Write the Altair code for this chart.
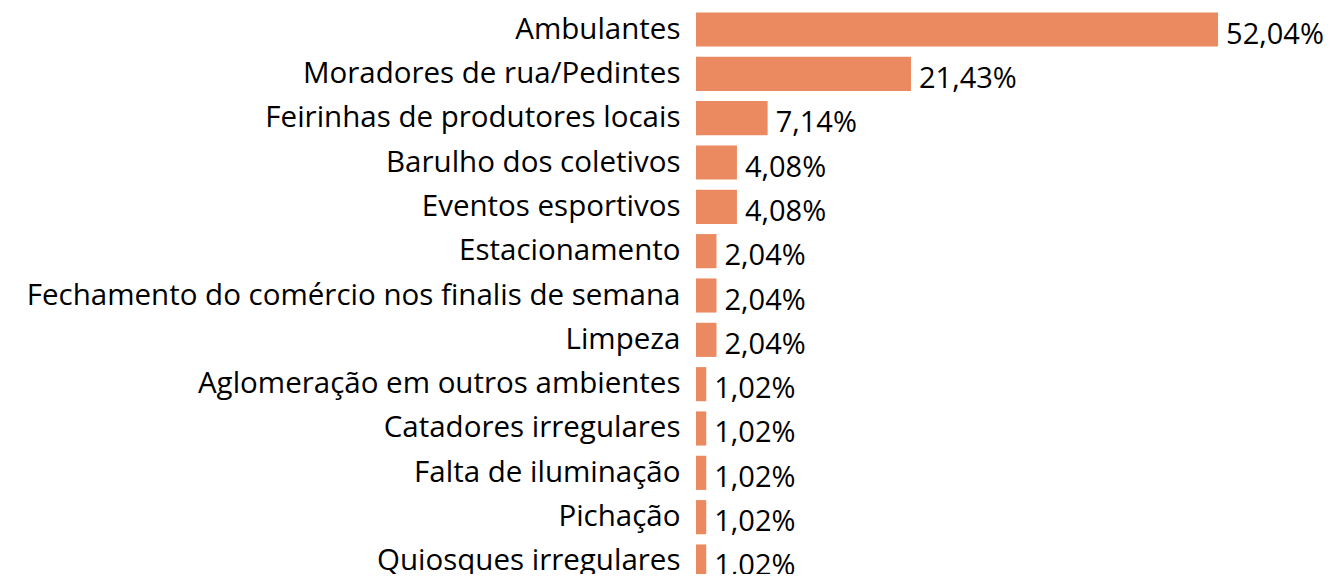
import altair as alt
import pandas as pd

categories = [
    "Ambulantes",
    "Moradores de rua/Pedintes",
    "Feirinhas de produtores locais",
    "Barulho dos coletivos",
    "Eventos esportivos",
    "Estacionamento",
    "Fechamento do comércio nos finalis de semana",
    "Limpeza",
    "Aglomeração em outros ambientes",
    "Catadores irregulares",
    "Falta de iluminação",
    "Pichação",
    "Quiosques irregulares",
]
values = [52.04, 21.43, 7.14, 4.08, 4.08, 2.04, 2.04, 2.04, 1.02, 1.02, 1.02, 1.02, 1.02]
labels = [f"{v:.2f}%".replace(".", ",") for v in values]

df = pd.DataFrame({"categoria": categories, "valor": values, "rotulo": labels})

FONT = "Open Sans"
FSIZE = 29.5
FWEIGHT = 400
TCOLOR = "#000000"

y = alt.Y(
    "categoria:N",
    sort=categories,
    title=None,
    scale=alt.Scale(range=[0, 575], paddingInner=0.23, paddingOuter=0.1),
    axis=alt.Axis(
        domain=False, ticks=False, tickSize=0, labelPadding=16,
        labelFontSize=FSIZE, labelFont=FONT, labelFontWeight=FWEIGHT,
        labelColor=TCOLOR, labelLimit=1000,
    ),
)
x = alt.X("valor:Q", scale=alt.Scale(domain=[0, 62.9]), axis=None)

bars = alt.Chart(df).mark_bar(color="#EB8A60").encode(x=x, y=y)
text = alt.Chart(df).mark_text(
    align="left", baseline="middle", dx=8, dy=5,
    fontSize=29, font=FONT, fontWeight=FWEIGHT, color=TCOLOR,
).encode(x=x, y=alt.Y("categoria:N", sort=categories), text="rotulo:N")

chart = (
    alt.layer(bars, text)
    .properties(
        width=631, height=566,
        autosize=alt.AutoSizeParams(type="none"),
        padding={"left": 688, "top": 0, "right": 0, "bottom": 0},
    )
    .configure_view(stroke=None)
)

chart.save("out.html", embed_options={"renderer": "svg", "actions": False})
